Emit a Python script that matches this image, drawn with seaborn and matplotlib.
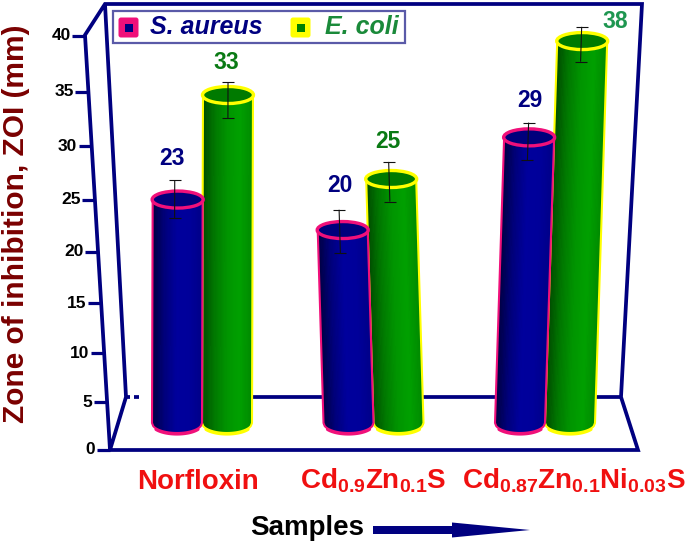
import numpy as np
import pandas as pd
import matplotlib
matplotlib.use("Agg")
import matplotlib.pyplot as plt
import seaborn as sns
from matplotlib.collections import QuadMesh
from matplotlib.colors import LinearSegmentedColormap
from matplotlib.patches import Ellipse, FancyBboxPatch, Polygon, Rectangle
from matplotlib.transforms import Affine2D

# values
samples = ["Norfloxin", "Cd0.9Zn0.1S", "Cd0.87Zn0.1Ni0.03S"]
sample_labels = ["Norfloxin",
                 r"$\mathbf{Cd_{0.9}Zn_{0.1}S}$",
                 r"$\mathbf{Cd_{0.87}Zn_{0.1}Ni_{0.03}S}$"]
organisms = ["S. aureus", "E. coli"]
aureus_zoi = [23, 20, 29]
ecoli_zoi = [33, 25, 38]
aureus_err_low = [1.8, 2.3, 2.2]
aureus_err_high = [1.9, 2.0, 1.4]
ecoli_err_low = [2.2, 2.2, 1.9]
ecoli_err_high = [1.2, 1.65, 1.3]
y_ticks = [0, 5, 10, 15, 20, 25, 30, 35, 40]

W, H = 685, 545
NAVY = "#000080"
BASE_Y = 423      # pixel row of value 0 for the cylinders
GROUP_X = 202     # pixel column of first group
GROUP_STEP = 171.5
LEAN = [0.003, -0.03, 0.032]   # each group leans a bit, perspective of the original
RY = 8.5

df = pd.DataFrame({
    "sample": samples * 2,
    "organism": [organisms[0]] * 3 + [organisms[1]] * 3,
    "zoi": aureus_zoi + ecoli_zoi,
})

sns.set_theme(style="white")
plt.rcParams["font.family"] = ["Liberation Sans", "DejaVu Sans"]
plt.rcParams["mathtext.fontset"] = "custom"
plt.rcParams["mathtext.bf"] = "Liberation Sans:bold"
plt.rcParams["mathtext.rm"] = "Liberation Sans:bold"
plt.rcParams["mathtext.it"] = "Liberation Sans:bold:italic"

fig = plt.figure(figsize=(W / 100, H / 100), dpi=100)
ax = fig.add_axes([0, 0, 1, 1])
sns.barplot(data=df, x="sample", y="zoi", hue="organism", hue_order=organisms,
            palette=["#00009a", "#009a00"], width=100 / GROUP_STEP, gap=0,
            errorbar=None, legend=False, ax=ax)


# bars: perspective makes the units grow with height
def forward(v):
    v = np.asarray(v, dtype=float)
    return 9.2 * v + 0.0224 * v ** 2


def inverse(h):
    h = np.asarray(h, dtype=float)
    return (-9.2 + np.sqrt(9.2 ** 2 + 4 * 0.0224 * h)) / (2 * 0.0224)


ax.set_yscale("function", functions=(forward, inverse))


def set_limits():
    ax.set_xlim(-GROUP_X / GROUP_STEP, (W - GROUP_X) / GROUP_STEP)
    ax.set_ylim(float(inverse(-(H - BASE_Y))), float(inverse(BASE_Y)))


set_limits()
ax.set_axis_off()

# px = image pixel coordinates, y going down
px = Affine2D().scale(1, -1).translate(0, H)


def lean_transform(k):
    y0 = H - BASE_Y
    return Affine2D.from_values(1, 0, k, 1, -k * y0, 0)


blue_cmap = LinearSegmentedColormap.from_list("b", ["#000040", "#00007a", "#00009c", "#00009a", "#000088"])
green_cmap = LinearSegmentedColormap.from_list("g", ["#004a00", "#007800", "#009400", "#00a000", "#008a00"])

styles = [
    dict(cmap=blue_cmap, rim="#f0107a", lid="#00007c", z=4, low=aureus_err_low, high=aureus_err_high),
    dict(cmap=green_cmap, rim="#ffff00", lid="#007a00", z=3, low=ecoli_err_low, high=ecoli_err_high),
]

tops = {}
for s, style in enumerate(styles):
    for g, patch in enumerate(ax.containers[s].patches):
        lean = lean_transform(LEAN[g])
        trans = ax.transData + lean
        patch.set_transform(trans)
        patch.set_edgecolor("none")
        patch.set_zorder(style["z"])

        x0, x1 = patch.get_x(), patch.get_x() + patch.get_width()
        value = patch.get_height()
        corners = trans.transform([(x0, 0), (x1, 0), (x1, value), (x0, value)])
        corners[:, 1] = H - corners[:, 1]
        (bl, br, tr, tl) = corners

        # cylinder side, shaded across and rounded at the foot
        t = np.linspace(0, 1, 41)
        arc = np.sqrt(np.clip(1 - (2 * t - 1) ** 2, 0, 1))
        X = np.vstack([tl[0] + (tr[0] - tl[0]) * t, bl[0] + (br[0] - bl[0]) * t])
        Y = np.vstack([tl[1] + (tr[1] - tl[1]) * t, bl[1] + 10 * arc])
        C = (t[:-1] + t[1:]) / 2
        mesh = QuadMesh(np.dstack([X, Y]), array=C, cmap=style["cmap"], transform=px,
                        antialiased=False, edgecolors="none", zorder=style["z"] + 0.1)
        mesh.set_clim(0, 1)
        ax.add_collection(mesh, autolim=False)

        # side edges thin, foot a bit thicker
        ax.plot(np.r_[tl[0], X[1], tr[0]], np.r_[tl[1], Y[1], tr[1]], color=style["rim"],
                lw=1.5, transform=px, zorder=style["z"] + 0.2, solid_joinstyle="round")
        ax.plot(X[1][3:-3], Y[1][3:-3] + 1.2, color=style["rim"], lw=2.0, transform=px,
                zorder=style["z"] + 0.2)
        top_c = (tl + tr) / 2
        tops[(s, g)] = top_c
        ax.add_patch(Ellipse(top_c, tr[0] - tl[0] + 1, 2 * RY, facecolor=style["lid"],
                             edgecolor=style["rim"], lw=2.4, transform=px,
                             zorder=style["z"] + 0.3))

# error bars
err_shift = [[-3, -3, -1], [0, -2, -1]]
for s, style in enumerate(styles):
    for g, patch in enumerate(ax.containers[s].patches):
        xc = patch.get_x() + patch.get_width() / 2 + err_shift[s][g] / GROUP_STEP
        ax.errorbar(xc, patch.get_height(), yerr=[[style["low"][g]], [style["high"][g]]],
                    color="#111111", elinewidth=0.8, capsize=4.3, capthick=0.8,
                    transform=ax.transData + lean_transform(LEAN[g]), zorder=7)
set_limits()

# value labels, offset from each lid
label_offsets = [[(-6, -41), (-3, -45), (0.5, -37)], [(-1.5, -33), (-3, -37), (33.5, -20)]]
label_colors = [[NAVY, NAVY, NAVY], ["#0a7a14", "#0a7a14", "#1e9650"]]
for s, values in enumerate([aureus_zoi, ecoli_zoi]):
    for g, v in enumerate(values):
        cx, cy = tops[(s, g)]
        dx, dy = label_offsets[s][g]
        ax.text(cx + dx, cy + dy, str(v), transform=px, color=label_colors[s][g],
                fontsize=16.5, fontweight="bold", ha="center", va="center", zorder=8)

# 3d looking frame
frame = [
    [(110, 450), (85, 35), (105, 4), (642, 4), (621, 397), (638, 450), (110, 450), (126, 397), (105, 4)],
    [(126, 397), (130, 397)], [(134, 397), (139, 397)], [(252, 397), (621, 397)],
]
for seg in frame:
    xs, ys = zip(*seg)
    ax.plot(xs, ys, color=NAVY, lw=2.7, transform=px, zorder=1, solid_joinstyle="miter",
            solid_capstyle="butt")

for v in y_ticks:
    y = 450 - (9.45 * v + 0.0225 * v ** 2)
    x = 110 - 25 * (450 - y) / 415
    ax.plot([x - 13, x], [y, y], color=NAVY, lw=2.3, transform=px, zorder=1,
            solid_capstyle="butt")
    ax.text(x - 14.5, y, str(v), transform=px, ha="right", va="center", color="black",
            fontsize=12.5, fontweight="bold")

ax.text(16, 224, "Zone of inhibition, ZOI (mm)", transform=px, rotation=90, ha="center",
        va="center", color="#7a0000", fontsize=21.5, fontweight="bold")

# sample names
name_x = [198, 373, 574]
name_y = [482, 481, 481]
for x, y, lab in zip(name_x, name_y, sample_labels):
    ax.text(x, y, lab, transform=px, ha="center", va="center", color="#f01010",
            fontsize=20, fontweight="bold")

ax.text(307, 528, "Samples", transform=px, ha="center", va="center", color="black",
        fontsize=20, fontweight="bold")
ax.add_patch(Polygon([(373, 526), (452, 526), (452, 522.5), (530, 530), (452, 537.5),
                      (452, 534), (373, 534)], closed=True, facecolor=NAVY,
                     edgecolor="none", transform=px, zorder=2))

# legend box
ax.add_patch(Rectangle((113, 11), 292, 32, facecolor="white", edgecolor="#5a5aa8", lw=1.6,
                       transform=px, zorder=9))
for x0, edge, inner in [(119, "#f0107a", NAVY), (291, "#ffff00", "#008000")]:
    ax.add_patch(FancyBboxPatch((x0 + 2, 20), 15, 15, boxstyle="round,pad=2.5", facecolor=edge,
                                edgecolor="none", transform=px, zorder=10))
    ax.add_patch(Rectangle((x0 + 5.5, 23.5), 8, 8, facecolor=inner, edgecolor="none",
                           transform=px, zorder=11))
ax.text(150, 27, organisms[0], transform=px, va="center", ha="left", color=NAVY, fontsize=18,
        fontweight="bold", fontstyle="italic", zorder=11)
ax.text(325, 27, organisms[1], transform=px, va="center", ha="left", color="#1a8a3a",
        fontsize=18, fontweight="bold", fontstyle="italic", zorder=11)

set_limits()
fig.savefig("out.png", dpi=100)
